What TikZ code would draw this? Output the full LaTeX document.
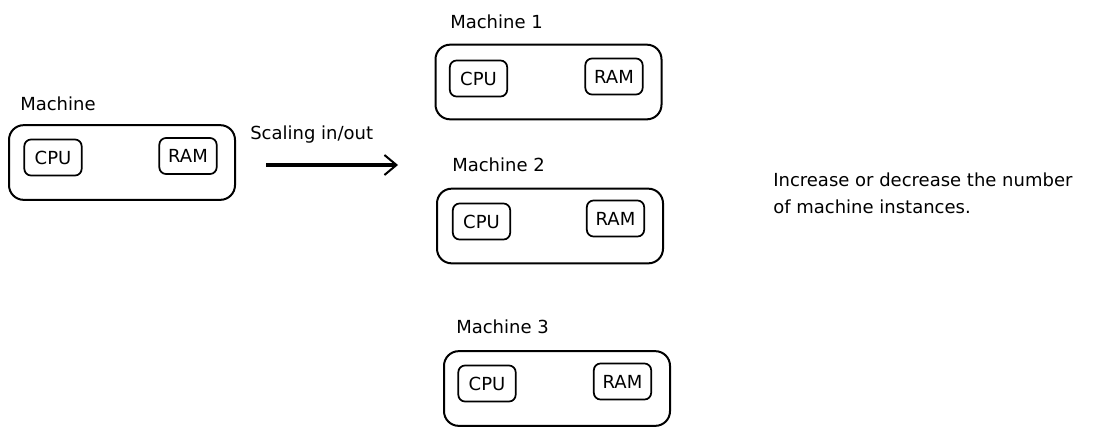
\documentclass[tikz,border=0pt]{standalone}
\usepackage{fontspec}
\setmainfont{DejaVu Sans}
\usetikzlibrary{arrows.meta}

\tikzset{
  maquina/.style={draw, line width=1.5pt, rounded corners=11pt, minimum width=169.5pt, minimum height=56pt},
  pieza/.style={draw, line width=1.3pt, rounded corners=5pt, minimum width=43pt, minimum height=27pt, inner sep=0pt},
  etiqueta/.style={anchor=west, inner sep=0pt}
}

\begin{document}
\begin{tikzpicture}[x=0.75pt, y=-0.75pt, font=\fontsize{13.5}{20}\selectfont]
        \useasboundingbox (0, 0) rectangle (1109, 436);

        % Máquina original
        \node[etiqueta] (lab0) at (20, 104) {Machine};
        \node[maquina] (m0) at (122, 162.5) {};
        \node[pieza] (cpu0) at (53, 157.5) {CPU};
        \node[pieza] (ram0) at (188, 156) {RAM};

        % Escalado
        \coordinate (as1) at (266, 165);
        \coordinate (as2) at (398, 165);
        \draw[line width=2.6pt, -{Straight Barb[length=9pt, width=15pt, line width=1.5pt]}] (as1) -- (as2);
        \node[etiqueta] (labs) at (250, 135) {Scaling in/out};

        % Máquina 1
        \node[etiqueta] (lab1) at (450, 22) {Machine 1};
        \node[maquina] (m1) at (548.5, 82) {};
        \node[pieza] (cpu1) at (478.5, 78.5) {CPU};
        \node[pieza] (ram1) at (614, 76.5) {RAM};

        % Máquina 2
        \node[etiqueta] (lab2) at (452, 165) {Machine 2};
        \node[maquina] (m2) at (550, 226) {};
        \node[pieza] (cpu2) at (481.5, 221.5) {CPU};
        \node[pieza] (ram2) at (615.5, 218.5) {RAM};

        % Máquina 3
        \node[etiqueta] (lab3) at (456, 327) {Machine 3};
        \node[maquina] (m3) at (557, 388.5) {};
        \node[pieza] (cpu3) at (487, 383.5) {CPU};
        \node[pieza] (ram3) at (622.5, 381.5) {RAM};

        % Nota
        \node[anchor=north west, align=left, inner sep=0pt] (nota) at (773, 173)
            {Increase or decrease the number\\of machine instances.};
    \end{tikzpicture}
\end{document}
